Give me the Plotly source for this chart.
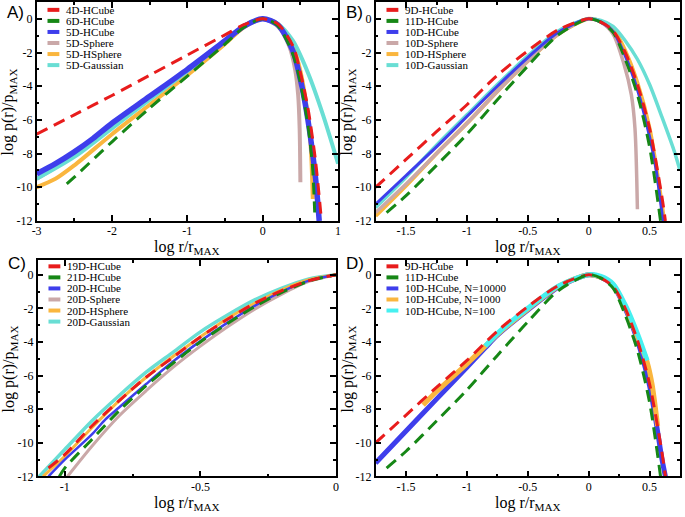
import plotly.graph_objects as go

W, H = 685, 517

# ---------------- data ----------------
# Panel A
A_4D_x = [-3, -2.5, -2, -1.5, -1, -0.5, -0.25, 0, 0.2, 0.4, 0.5, 0.6, 0.7, 0.78]
A_4D_y = [-6.85, -5.7, -4.55, -3.35, -2.15, -0.95, -0.35, 0, -0.3, -1.6, -3.2, -5.3, -8.4, -12]
A_6D_x = [-2.6, -2.5, -2, -1.5, -1, -0.5, -0.25, 0, 0.2, 0.4, 0.5, 0.6, 0.66, 0.69]
A_6D_y = [-9.8, -9.4, -7.3, -5.3, -3.4, -1.5, -0.5, 0, -0.4, -2.1, -3.8, -6.3, -8.7, -11.5]
A_5D_x = [-3, -2.75, -2.5, -2.25, -2, -1.5, -1, -0.5, -0.25, 0, 0.2, 0.4, 0.5, 0.6, 0.7, 0.75]
A_5D_y = [-9.2, -8.6, -7.9, -7.1, -6.2, -4.6, -3.0, -1.3, -0.45, 0, -0.35, -1.9, -3.6, -6.0, -9.4, -12]
A_Sph_x = [-3, -2.5, -2, -1.5, -1, -0.5, -0.25, 0, 0.2, 0.35, 0.43, 0.47, 0.49, 0.5]
A_Sph_y = [-9.5, -8.1, -6.4, -4.75, -3.1, -1.35, -0.45, 0, -0.45, -1.6, -3.0, -4.5, -6.5, -9.7]
A_HSph_x = [-3, -2.75, -2.5, -2, -1.5, -1, -0.5, -0.25, 0, 0.2, 0.4, 0.5, 0.6, 0.64, 0.665]
A_HSph_y = [-10.0, -9.5, -8.7, -6.85, -5.1, -3.35, -1.5, -0.5, 0, -0.3, -1.6, -3.1, -5.8, -7.8, -10.7]
A_Gau_x = [-3, -2.5, -2, -1.5, -1, -0.5, -0.25, 0, 0.2, 0.4, 0.6, 0.8, 1.0]
A_Gau_y = [-9.5, -8.2, -6.5, -4.8, -3.1, -1.35, -0.42, 0, -0.3, -1.3, -3.2, -5.7, -8.6]

# Panel B
B_9D_x = [-1.75, -1.5, -1.25, -1, -0.75, -0.5, -0.25, 0, 0.1, 0.2, 0.3, 0.4, 0.5, 0.6, 0.63]
B_9D_y = [-10.0, -8.35, -6.7, -5.1, -3.35, -1.9, -0.65, 0, -0.2, -0.7, -2.0, -3.9, -6.5, -10.5, -12]
B_11D_x = [-1.66, -1.5, -1.25, -1, -0.75, -0.5, -0.25, 0, 0.1, 0.2, 0.3, 0.4, 0.5, 0.59]
B_11D_y = [-11.5, -10.5, -8.7, -6.85, -4.8, -2.8, -0.95, 0, -0.2, -0.8, -2.4, -4.5, -7.6, -12]
B_10D_x = [-1.75, -1.5, -1.25, -1, -0.75, -0.5, -0.25, 0, 0.1, 0.2, 0.3, 0.4, 0.5, 0.55, 0.61]
B_10D_y = [-11.0, -9.3, -7.6, -5.8, -4.0, -2.3, -0.8, 0, -0.2, -0.75, -2.2, -4.2, -7.0, -8.8, -12]
B_Sph_x = [-1.75, -1.5, -1.25, -1, -0.75, -0.5, -0.25, 0, 0.1, 0.2, 0.29, 0.35, 0.38, 0.4]
B_Sph_y = [-11.5, -9.8, -8.0, -6.2, -4.3, -2.5, -0.9, 0, -0.2, -0.9, -2.7, -4.5, -6.5, -11.3]
B_HSph_x = [-1.75, -1.5, -1.25, -1, -0.75, -0.5, -0.25, 0, 0.1, 0.2, 0.3, 0.4, 0.5, 0.58, 0.62]
B_HSph_y = [-11.7, -9.9, -8.0, -6.2, -4.3, -2.5, -0.9, 0, -0.15, -0.6, -1.9, -3.8, -6.5, -10, -12]
B_Gau_x = [-1.75, -1.5, -1.25, -1, -0.75, -0.5, -0.25, 0, 0.1, 0.2, 0.3, 0.4, 0.5, 0.6, 0.7, 0.75]
B_Gau_y = [-11.2, -9.4, -7.5, -5.7, -3.9, -2.2, -0.72, 0, -0.1, -0.45, -1.3, -2.4, -3.9, -5.8, -7.8, -9.0]

# Panel C
C_x = [-1.1, -1.0, -0.9, -0.8, -0.7, -0.6, -0.5, -0.4, -0.3, -0.2, -0.1, 0]
C_Gau_y = [-12.1, -10.4, -8.7, -7.2, -5.8, -4.6, -3.4, -2.4, -1.5, -0.8, -0.25, 0]
C_19D_x = [-1.06, -1.0, -0.9, -0.8, -0.7, -0.6, -0.5, -0.4, -0.3, -0.2, -0.1, 0]
C_19D_y = [-11.5, -10.7, -9.0, -7.5, -6.1, -4.9, -3.7, -2.65, -1.7, -0.95, -0.35, 0]
C_HSph_x = [-1.08, -1.0, -0.9, -0.8, -0.7, -0.6, -0.5, -0.4, -0.3, -0.2, -0.1, 0]
C_HSph_y = [-12.0, -10.8, -9.1, -7.5, -6.1, -4.85, -3.7, -2.6, -1.7, -0.9, -0.3, 0]
C_20D_x = [-1.06, -1.0, -0.9, -0.85, -0.8, -0.7, -0.6, -0.5, -0.4, -0.3, -0.2, -0.1, 0]
C_20D_y = [-12.0, -11.0, -9.5, -8.6, -7.9, -6.5, -5.15, -3.95, -2.85, -1.85, -1.0, -0.35, 0]
C_21D_x = [-1.02, -1.0, -0.9, -0.8, -0.7, -0.6, -0.5, -0.4, -0.3, -0.2, -0.1, 0]
C_21D_y = [-12.0, -11.5, -9.8, -8.1, -6.6, -5.25, -4.0, -2.9, -1.9, -1.05, -0.38, 0]
C_Sph_x = [-0.99, -0.9, -0.8, -0.7, -0.6, -0.5, -0.4, -0.3, -0.2, -0.1, 0]
C_Sph_y = [-12.0, -10.2, -8.4, -6.9, -5.5, -4.25, -3.1, -2.05, -1.15, -0.4, 0]

# Panel D (9D and 11D hypercube curves are the same as in panel B)
D_N10000_x = [-1.75, -1.5, -1.25, -1.0, -0.85, -0.75, -0.5, -0.25, 0, 0.1, 0.2, 0.3, 0.4, 0.5, 0.55, 0.6, 0.63]
D_N10000_y = [-11.2, -9.3, -7.4, -5.5, -4.35, -3.6, -2.1, -0.75, 0, -0.15, -0.65, -2.0, -3.9, -6.6, -8.6, -10.9, -12]
D_N1000_x = [-1.36, -1.25, -1.0, -0.85, -0.75, -0.5, -0.25, 0, 0.1, 0.2, 0.3, 0.4, 0.48, 0.52, 0.566]
D_N1000_y = [-7.75, -6.95, -5.3, -4.25, -3.55, -2.05, -0.7, 0, -0.15, -0.6, -1.9, -3.7, -5.2, -6.5, -9.0]
D_N100_x = [-0.85, -0.75, -0.5, -0.25, 0, 0.1, 0.2, 0.3, 0.4, 0.48]
D_N100_y = [-4.25, -3.5, -2.0, -0.68, 0, -0.1, -0.55, -1.8, -3.5, -5.1]

# tick labels
Y_TICKS = [-12, -10, -8, -6, -4, -2, 0]
Y_LABELS = ["-12", "-10", "-8", "-6", "-4", "-2", "0"]
A_XTICKS = [-3, -2, -1, 0, 1]
A_XLABELS = ["-3", "-2", "-1", "0", "1"]
B_XTICKS = [-1.5, -1, -0.5, 0, 0.5]
B_XLABELS = ["-1.5", "-1", "-0.5", "0", "0.5"]
C_XTICKS = [-1, -0.5, 0]
C_XLABELS = ["-1", "-0.5", "0"]

# ---------------- styles ----------------
RED = "rgb(232,28,28)"
GREEN = "rgb(22,135,22)"
BLUE = "rgb(62,62,236)"
ROSY = "rgb(202,168,168)"
ORANGE = "rgb(250,182,62)"
TURQ = "rgb(105,222,212)"
CYAN = "rgb(70,240,240)"
DASH = "12px,7px"
SERIF = "Liberation Serif, Times New Roman, serif"
SANS = "Liberation Sans, Arial, sans-serif"

# panel geometry in pixels (left, right, top, bottom)
PANELS = {
    "A": dict(ax="", box=(32, 337, 2, 224), xr=[-3, 1], yr=[-12, 1],
              xt=(A_XTICKS, A_XLABELS), minor=0.5),
    "B": dict(ax="2", box=(375, 683, 2, 224), xr=[-1.75, 0.75], yr=[-12, 1],
              xt=(B_XTICKS, B_XLABELS), minor=0.25),
    "C": dict(ax="3", box=(33, 335, 264, 483), xr=[-1.1, 0], yr=[-12, 0.85],
              xt=(C_XTICKS, C_XLABELS), minor=0.25),
    "D": dict(ax="4", box=(375, 683, 264, 483), xr=[-1.75, 0.75], yr=[-12, 0.85],
              xt=(B_XTICKS, B_XLABELS), minor=0.25),
}

# series per panel: (name, x, y, color, width, dashed, draw order)
SERIES = {
    "A": [
        ("4D-HCube", A_4D_x, A_4D_y, RED, 3, True, 6),
        ("6D-HCube", A_6D_x, A_6D_y, GREEN, 3, True, 5),
        ("5D-HCube", A_5D_x, A_5D_y, BLUE, 5.5, False, 4),
        ("5D-Sphere", A_Sph_x, A_Sph_y, ROSY, 4, False, 2),
        ("5D-HSphere", A_HSph_x, A_HSph_y, ORANGE, 4, False, 1),
        ("5D-Gaussian", A_Gau_x, A_Gau_y, TURQ, 4, False, 3),
    ],
    "B": [
        ("9D-HCube", B_9D_x, B_9D_y, RED, 3, True, 6),
        ("11D-HCube", B_11D_x, B_11D_y, GREEN, 3, True, 5),
        ("10D-HCube", B_10D_x, B_10D_y, BLUE, 3, False, 4),
        ("10D-Sphere", B_Sph_x, B_Sph_y, ROSY, 3.5, False, 2),
        ("10D-HSphere", B_HSph_x, B_HSph_y, ORANGE, 4, False, 1),
        ("10D-Gaussian", B_Gau_x, B_Gau_y, TURQ, 3.5, False, 3),
    ],
    "C": [
        ("19D-HCube", C_19D_x, C_19D_y, RED, 3, True, 6),
        ("21D-HCube", C_21D_x, C_21D_y, GREEN, 3, True, 5),
        ("20D-HCube", C_20D_x, C_20D_y, BLUE, 2.5, False, 4),
        ("20D-Sphere", C_Sph_x, C_Sph_y, ROSY, 3, False, 1),
        ("20D-HSphere", C_HSph_x, C_HSph_y, ORANGE, 3, False, 3),
        ("20D-Gaussian", C_x, C_Gau_y, TURQ, 3.5, False, 2),
    ],
    "D": [
        ("9D-HCube", B_9D_x, B_9D_y, RED, 3, True, 4),
        ("11D-HCube", B_11D_x, B_11D_y, GREEN, 3, True, 5),
        ("10D-HCube, N=10000", D_N10000_x, D_N10000_y, BLUE, 5, False, 1),
        ("10D-HCube, N=1000", D_N1000_x, D_N1000_y, ORANGE, 5, False, 2),
        ("10D-HCube, N=100", D_N100_x, D_N100_y, CYAN, 5, False, 3),
    ],
}


def px2paper(xp, yp):
    return xp / W, 1 - yp / H


fig = go.Figure()
shapes, annos = [], []

for key, P in PANELS.items():
    ax = P["ax"]
    l, r, t, b = P["box"]
    xa, ya = "x" + ax, "y" + ax
    entries = SERIES[key]
    for (name, xs, ys, col, wd, dashed, order) in sorted(entries, key=lambda e: e[6]):
        fig.add_trace(go.Scatter(
            x=xs, y=ys, mode="lines", name=name, showlegend=False,
            xaxis=xa, yaxis=ya,
            line=dict(color=col, width=wd, dash=DASH if dashed else "solid",
                      shape="spline", smoothing=0.8),
            hoverinfo="skip"))

    common = dict(showline=True, linecolor="black", linewidth=1.5, mirror="allticks",
                  ticks="inside", ticklen=6, tickwidth=1.5, tickcolor="black",
                  showgrid=False, zeroline=False, tickfont=dict(family=SERIF, size=12, color="black"))
    fig.layout["xaxis" + ax] = dict(
        domain=[l / W, r / W], range=P["xr"], anchor=ya,
        tickmode="array", tickvals=P["xt"][0], ticktext=P["xt"][1], ticklabelstandoff=-2,
        minor=dict(ticks="inside", ticklen=3, tickwidth=1.5, tickcolor="black",
                   dtick=P["minor"], tick0=0), **common)
    fig.layout["yaxis" + ax] = dict(
        domain=[1 - b / H, 1 - t / H], range=P["yr"], anchor=xa,
        tickmode="array", tickvals=Y_TICKS, ticktext=Y_LABELS,
        minor=dict(ticks="inside", ticklen=3, tickwidth=1.5, tickcolor="black",
                   dtick=1, tick0=0), **common)

    # panel label
    lx, ly = px2paper(l - 32, t - 1 if t < 10 else t - 9)
    annos.append(dict(text=key + ")", x=lx, y=ly, xref="paper", yref="paper",
                      xanchor="left", yanchor="top", showarrow=False,
                      font=dict(family=SANS, size=17, color="black")))
    # axis titles
    cx, cy = px2paper((l + r) / 2, b + 27)
    annos.append(dict(text="log r/r<sub>MAX</sub>", x=cx, y=cy, xref="paper", yref="paper",
                      xanchor="center", yanchor="middle", showarrow=False,
                      font=dict(family=SERIF, size=16, color="black")))
    yx, yy = px2paper(l - 28, (t + b) / 2)
    annos.append(dict(text="log p(r)/p<sub>MAX</sub>", x=yx, y=yy, xref="paper", yref="paper",
                      xanchor="center", yanchor="middle", showarrow=False, textangle=-90,
                      font=dict(family=SERIF, size=16, color="black")))

    # legend (drawn inside the plot, top-left)
    first = 8 if t < 10 else 6
    for i, (name, xs, ys, col, wd, dashed, order) in enumerate(entries):
        yc = t + first + i * 11.2
        x0, y0 = px2paper(l + 11, yc)
        x1, _ = px2paper(l + 23, yc)
        shapes.append(dict(type="line", xref="paper", yref="paper", x0=x0, x1=x1, y0=y0, y1=y0,
                           line=dict(color=col, width=4)))
        tx, _ = px2paper(l + 28, yc)
        annos.append(dict(text=name, x=tx, y=y0, xref="paper", yref="paper",
                          xanchor="left", yanchor="middle", showarrow=False,
                          font=dict(family=SERIF, size=11, color="black")))

fig.update_layout(width=W, height=H, autosize=False,
                  margin=dict(l=0, r=0, t=0, b=0),
                  paper_bgcolor="white", plot_bgcolor="white",
                  showlegend=False, shapes=shapes, annotations=annos)

fig.write_html("out.html", config={"displayModeBar": False},
               post_script="document.body.style.margin='0px';")
